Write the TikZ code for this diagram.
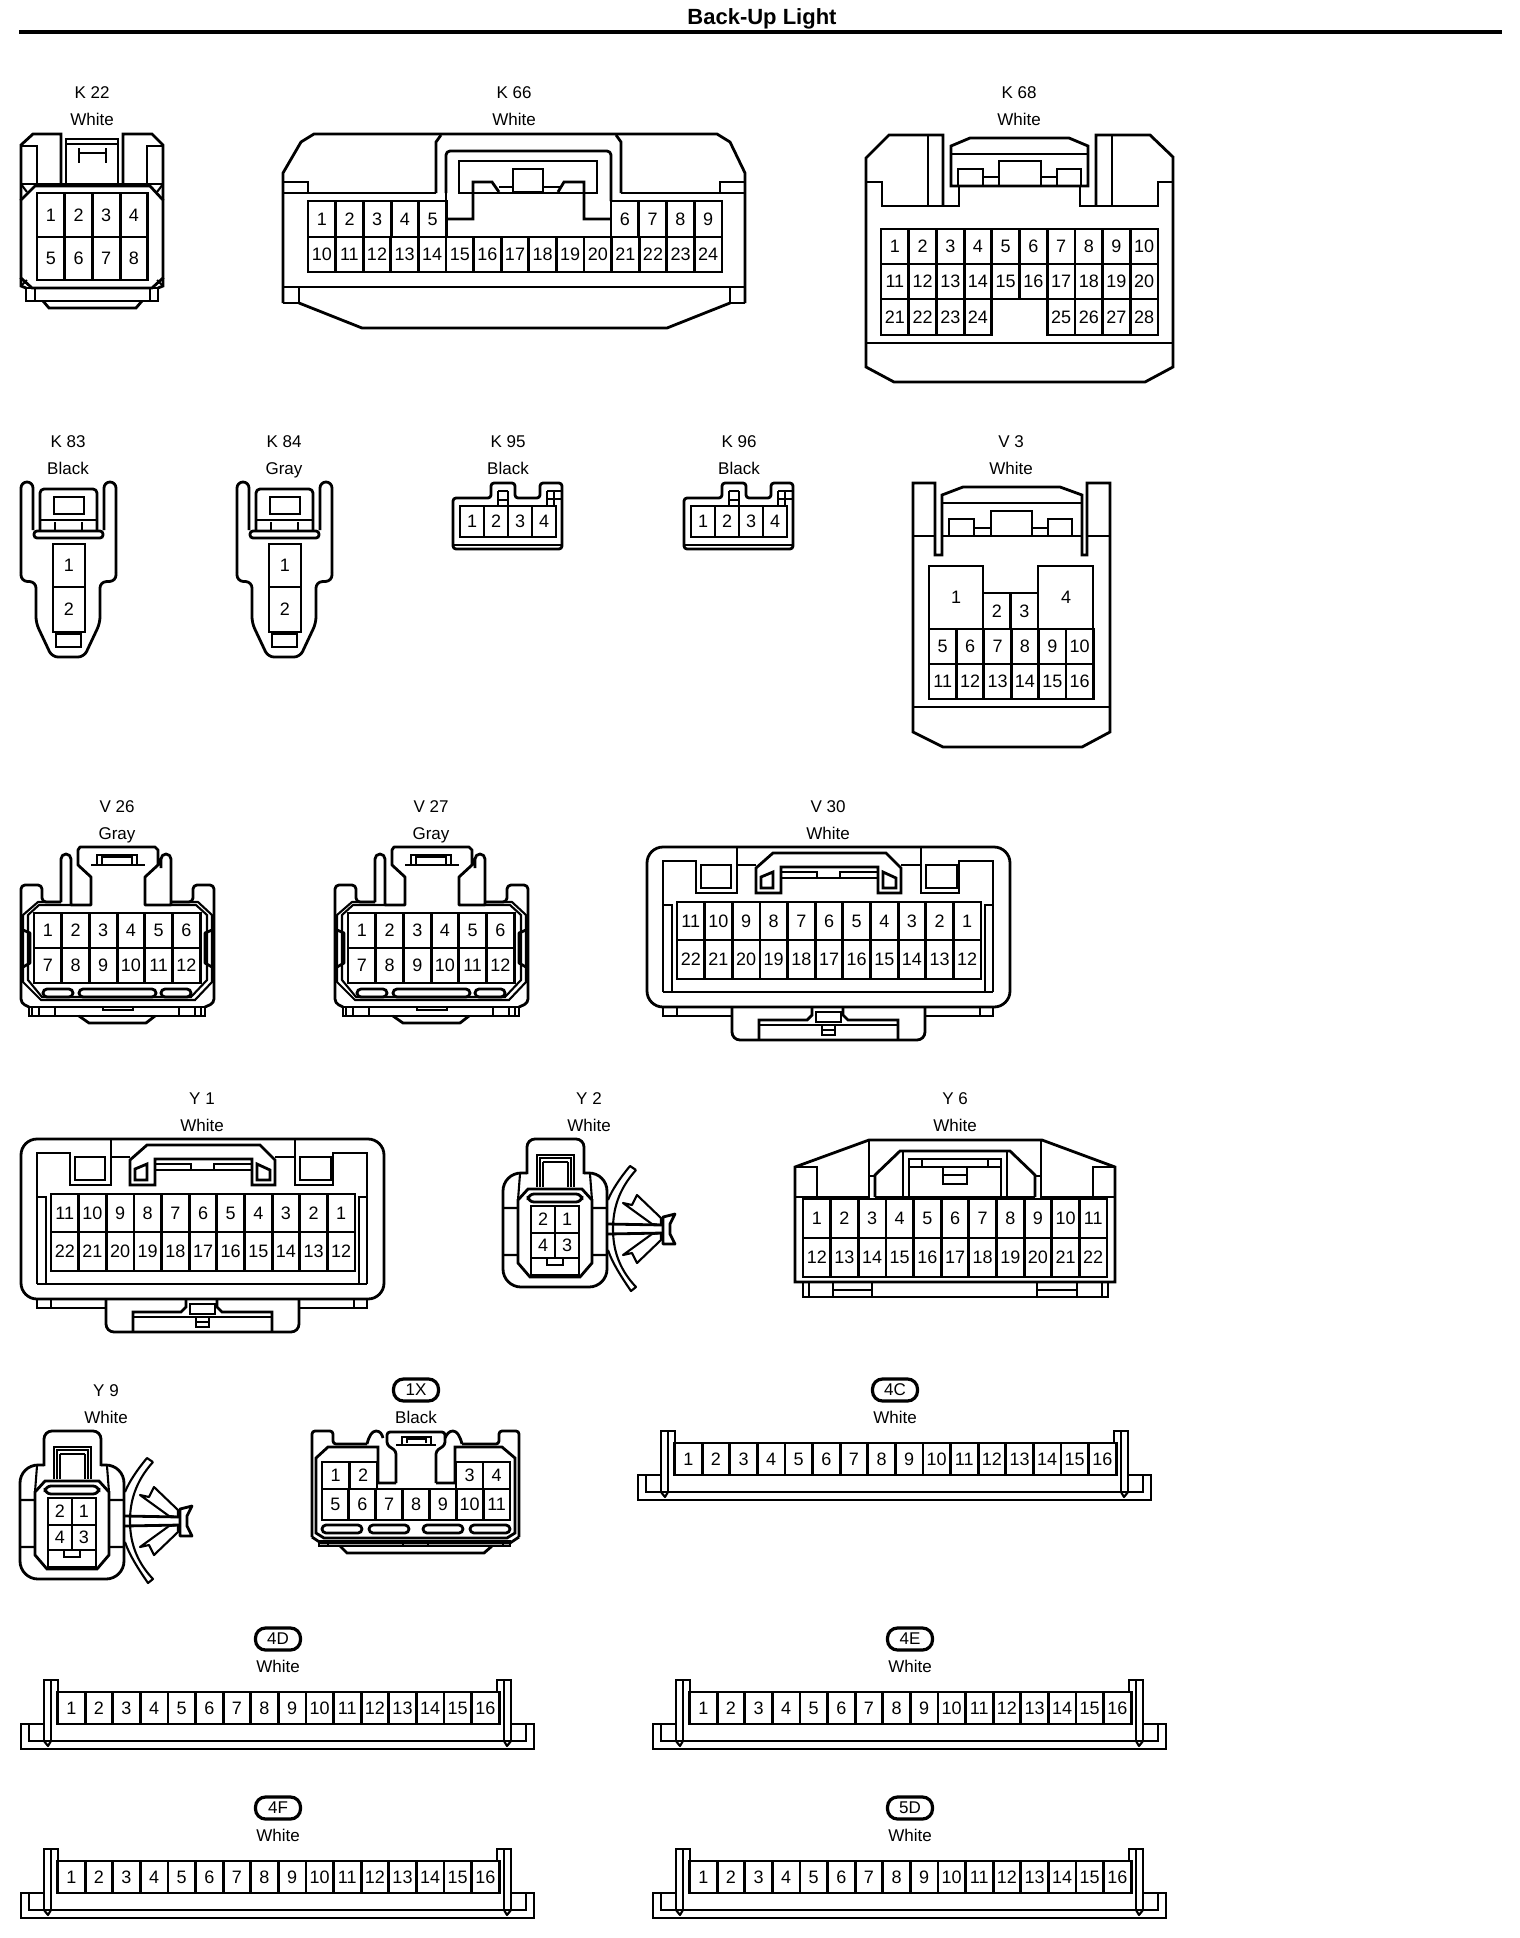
\documentclass[tikz,border=0pt]{standalone}
\usepackage{fontspec}
\setmainfont{Liberation Sans}
\tikzset{
  ln/.style={line width=1.4pt,line join=miter,line cap=butt},
  tn/.style={line width=1.05pt,line join=miter},
  num/.style={inner sep=0pt,font=\fontsize{9}{9}\selectfont},
  lbl/.style={inner sep=0pt,text height=6.1pt,text depth=0pt,font=\fontsize{8.5}{9}\selectfont},
  pill/.style={draw,line width=1.6pt,rounded corners=5pt,minimum width=22.5pt,minimum height=11pt,inner sep=0pt,font=\fontsize{8.5}{9}\selectfont},
  rnd/.style={rounded corners=2pt,line join=round}
}
\newcommand\pinrow[5]{\foreach \pinlab [count=\pidx] in {#5}{%
  \draw[ln] ({#1+(\pidx-1)*#2},#3) rectangle ({#1+\pidx*#2},#4);
  \node[num] at ({#1+(\pidx-.5)*#2},{(#3+#4)/2}) {\pinlab};}}
\newcommand\lab[4]{\node[lbl] (lab-#3) at (#1,#2) {#3};\node[lbl] (col-#3) at (#1,#2+27.5) {#4};}
\newcommand\badge[4]{\node[pill] (lab-#3) at (#1,#2) {#3};\node[lbl] (col-#3) at (#1,#2+27.5) {#4};}
% ---- repeated connector bodies
\newcommand\ktwo{%
  \draw[ln,line join=round] (21,572)--(21,488) arc[start angle=180,end angle=360,radius=6]--(33,530);
  \draw[ln,line join=round] (104,530)--(104,488) arc[start angle=180,end angle=360,radius=6]--(116,572);
  \draw[ln,rounded corners=3pt,line join=round] (21,572)--(21,581)--(36,582)--(36,623)--(52,657)--(84,657)--(100,623)--(100,582)--(116,581)--(116,572);
  \draw[ln,rounded corners=1.5pt] (34,531) rectangle (103,538);
  \draw[ln,rnd] (40,531)--(40,489)--(97,489)--(97,531);
  \draw[ln] (54,497) rectangle (84,514);
  \draw[tn] (40,520)--(97,520) (55,522)--(55,531) (82,522)--(82,531);
  \pinrow{53}{32}{544}{587}{1}
  \pinrow{53}{32}{587}{632}{2}
  \draw[ln] (56,634) rectangle (81,647);}
\newcommand\kfour{%
  \draw[ln,rounded corners=1.5pt,line join=round] (453,498)--(453,549)--(562,549)--(562,483)--(540,483)--(540,498)--(515,498)--(515,483)--(491,483)--(491,498)--cycle;
  \draw[tn] (453,545)--(562,545);
  \draw[tn] (498,498)--(498,506) (508,491)--(508,506) (498,491)--(508,491) (498,491)--(498,498) (498,500)--(508,500);
  \draw[tn] (547,491)--(547,506) (547,491)--(561,491) (547,499)--(561,499) (554,491)--(554,506);
  \pinrow{460}{24}{506}{537}{1,2,3,4}}
\newcommand\vtwosix{%
  \draw[ln,line join=round] (61,902)--(61,859) arc[start angle=180,end angle=360,radius=5]--(71,905)--(91,905)--(91,877)--(78,865)--(78,850)--(80,847)--(155,847)--(158,850)--(158,865)--(145,877)--(145,905)--(171,905)--(171,859) arc[start angle=0,end angle=-180,radius=5]--(161,868);
  \draw[ln] (91,865)--(145,865);
  \draw[ln] (97,865)--(97,855)--(137,855)--(137,865);
  \draw[tn] (102,864)--(102,857)--(132,857)--(132,864);
  \draw[ln,rnd] (29,1007)--(21,1003)--(21,885)--(42,885)--(42,902)--(61,902);
  \draw[ln,rnd] (205,1007)--(214,1003)--(214,885)--(193,885)--(193,902)--(171,902);
  \draw[tn] (61,902)--(38,902)--(23,915)--(23,982)--(41,1000)--(195,1000)--(212,982)--(212,915)--(198,902)--(171,902);
  \draw[tn] (71,905)--(39,905)--(28,915)--(28,980)--(42,997)--(191,997)--(207,980)--(207,915)--(196,905)--(171,905);
  \draw[ln,line join=round] (23,930)--(30,933)--(30,963)--(23,967);
  \draw[ln,line join=round] (212,930)--(205,933)--(205,963)--(212,967);
  \draw[ln,rounded corners=2pt] (43,989) rectangle (73,997);
  \draw[ln,rounded corners=2pt] (79,989) rectangle (156,997);
  \draw[ln,rounded corners=2pt] (161,989) rectangle (191,997);
  \draw[ln] (29,1007) rectangle (205,1016);
  \draw[tn] (32,1007)--(32,1016) (39,1007)--(39,1016) (55,1007)--(55,1016) (179,1007)--(179,1016) (195,1007)--(195,1016) (201,1007)--(201,1016);
  \draw[ln] (103,1007) rectangle (133,1010);
  \draw[ln,line join=round] (79,1016)--(89,1023)--(146,1023)--(155,1016);
  \pinrow{34}{27.7}{913}{948}{1,2,3,4,5,6}
  \pinrow{34}{27.7}{948}{983}{7,8,9,10,11,12}}
\newcommand\vthirty{%
  \draw[ln,rounded corners=8pt] (647,847) rectangle (1010,1007);
  \draw[ln] (663,992)--(993,992);
  \draw[ln] (663,992)--(663,861)--(696,861)--(696,893)--(737,893)--(737,847);
  \draw[ln] (993,992)--(993,861)--(959,861)--(959,893)--(921,893)--(921,847);
  \draw[ln] (701,865) rectangle (731,888);
  \draw[ln] (926,865) rectangle (957,888);
  \draw[ln] (737,865)--(756,865) (901,865)--(921,865);
  \draw[ln] (756,893)--(756,868)--(773,853)--(886,853)--(901,868)--(901,893)--(878,893)--(878,867)--(781,867)--(781,893)--cycle;
  \draw[ln] (761,888)--(761,877)--(773,872)--(773,888)--cycle;
  \draw[ln] (883,888)--(883,872)--(896,878)--(896,888)--cycle;
  \draw[tn] (781,872)--(817,872)--(817,878)--(840,878)--(840,872)--(878,872) (781,878)--(817,878) (840,878)--(878,878);
  \pinrow{677}{27.64}{902}{940}{11,10,9,8,7,6,5,4,3,2,1}
  \pinrow{677}{27.64}{940}{979}{22,21,20,19,18,17,16,15,14,13,12}
  \draw[ln] (663,905)--(672,905)--(672,992) (993,905)--(985,905)--(985,992);
  \draw[ln] (663,1007)--(663,1016)--(732,1016) (677,1008)--(677,1016) (993,1007)--(993,1016)--(925,1016) (980,1008)--(980,1016);
  \draw[ln,rounded corners=4pt] (732,1007)--(732,1040)--(925,1040)--(925,1007);
  \draw[ln] (759,1040)--(759,1020)--(807,1020)--(812,1015)--(812,1008);
  \draw[ln] (898,1040)--(898,1020)--(848,1020)--(843,1015)--(843,1008);
  \draw[tn] (759,1025)--(898,1025);
  \draw[ln] (816,1012) rectangle (841,1022);
  \draw[ln] (822,1025) rectangle (835,1035);
  \draw[tn] (822,1030)--(835,1030);}
\newcommand\ytwo{%
  \draw[ln,rounded corners=4pt] (527,1174)--(527,1139)--(584,1139)--(584,1174);
  \draw[ln] (537,1187)--(537,1155)--(574,1155)--(574,1187);
  \draw[tn] (540,1187)--(540,1158)--(571,1158)--(571,1187) (543,1162)--(568,1162) (543,1162)--(543,1187) (568,1162)--(568,1187);
  \draw[ln,rounded corners=9pt] (527,1173)--(503,1173)--(503,1287)--(607,1287)--(607,1173)--(584,1173);
  \draw[tn] (503,1208)--(518,1208) (503,1255)--(518,1255) (593,1208)--(607,1208) (593,1255)--(607,1255) (520,1174)--(518,1200) (590,1174)--(592,1200);
  \draw[ln] (518,1200)--(528,1189)--(582,1189)--(592,1200)--(592,1263)--(580,1277)--(530,1277)--(518,1263)--cycle;
  \draw[ln,rounded corners=3pt] (528,1194) rectangle (582,1202);
  \pinrow{531}{24}{1206}{1233}{2,1}
  \pinrow{531}{24}{1233}{1258}{4,3}
  \draw[ln] (531,1258) rectangle (579,1275);
  \draw[ln] (547,1258) rectangle (563,1265);
  \draw[tn,line join=round] (636,1170) .. controls (618,1190) and (613,1210) .. (613,1229) .. controls (613,1248) and (618,1268) .. (636,1287)--(631,1291) .. controls (620,1275) and (612,1262) .. (608,1250);
  \draw[tn,line join=round] (636,1170)--(630,1166) .. controls (620,1178) and (612,1190) .. (608,1200);
  \draw[ln] (607,1224)--(663,1225) (607,1234)--(663,1233);
  \draw[tn,line join=round] (623,1203)--(632,1205)--(637,1195)--(661,1218)--(661,1225)--(652,1224)--cycle;
  \draw[tn,line join=round] (623,1255)--(632,1253)--(637,1263)--(661,1240)--(661,1233)--(652,1234)--cycle;
  \draw[ln,line join=round] (663,1217)--(675,1214)--(670,1224)--(670,1234)--(675,1244)--(663,1244)--cycle;}
\newcommand\wideconn{%
  \draw[ln] (661,1492)--(661,1431)--(675,1431)--(675,1443);
  \draw[tn] (668,1431)--(668,1492);
  \draw[ln] (1114,1443)--(1114,1431)--(1128,1431)--(1128,1492);
  \draw[tn] (1121,1431)--(1121,1492);
  \draw[ln] (661,1475)--(638,1475)--(638,1500)--(1151,1500)--(1151,1475)--(1128,1475);
  \draw[ln] (646,1476)--(646,1492)--(1143,1492)--(1143,1476);
  \draw[tn,line join=round] (661,1492)--(665,1497)--(668,1492) (1121,1492)--(1124,1497)--(1128,1492);
  \pinrow{674.5}{27.6}{1443}{1475}{1,2,3,4,5,6,7,8,9,10,11,12,13,14,15,16}}
\begin{document}
\begin{tikzpicture}[x=0.5pt,y=-0.5pt]
\fill[white] (0,0) rectangle (1520,1938);
\useasboundingbox (0,0) rectangle (1520,1938);
% title
\node[inner sep=0pt,font=\fontsize{11}{12}\selectfont\bfseries] (title) at (762,19) {Back-Up Light};
\draw[line width=2pt] (19,32)--(1502,32);

% K 22
\lab{92}{92}{K 22}{White}
\draw[ln] (21,200)--(21,145)--(33,134)--(61,134)--(61,184);
\draw[ln] (21,146)--(37,146)--(37,184);
\draw[ln] (66,184)--(66,139)--(118,139)--(118,184);
\draw[tn] (66,144)--(118,144);
\draw[ln] (79,148)--(79,163) (106,148)--(106,163) (79,153)--(106,153);
\draw[ln] (123,184)--(123,134)--(152,134)--(163,145)--(163,200);
\draw[ln] (147,184)--(147,146)--(163,146);
\draw[ln] (21,184)--(163,184);
\draw[ln] (21,200)--(35,186)--(150,186)--(163,200)--(163,278)--(152,288)--(32,288)--(21,278)--cycle;
\draw[tn] (21,184)--(27,192) (163,184)--(157,192) (21,286)--(27,280) (163,286)--(157,280);
\draw[ln] (21,278)--(21,286)--(26,288) (163,278)--(163,286)--(158,288);
\draw[ln] (26,288) rectangle (158,301);
\draw[tn] (35,288)--(35,301) (150,288)--(150,301);
\draw[ln] (43,301)--(49,308)--(136,308)--(142,301);
\pinrow{37}{27.7}{193}{237}{1,2,3,4}
\pinrow{37}{27.7}{237}{280}{5,6,7,8}

% K 66
\lab{514}{92}{K 66}{White}
\draw[ln] (283,303)--(283,173)--(301,142)--(314,134)--(717,134)--(730,142)--(745,173)--(745,303);
\draw[ln] (283,193)--(436,193) (621,193)--(745,193);
\draw[ln] (436,193)--(436,142)--(441,135) (621,193)--(621,142)--(616,135);
\draw[ln,rnd] (446,193)--(446,151)--(611,151)--(611,201);
\draw[ln] (446,193)--(446,201);
\draw[ln] (459,161) rectangle (597,193);
\draw[ln] (513,169) rectangle (543,192);
\draw[ln] (446,219)--(473,219)--(473,182)--(492,182)--(499,192);
\draw[ln] (611,219)--(584,219)--(584,182)--(564,182)--(558,192);
\draw[tn] (499,187)--(513,187) (543,187)--(561,187);
\draw[ln] (283,182)--(308,182)--(308,193) (745,182)--(720,182)--(720,193);
\pinrow{308}{27.7}{201}{237}{1,2,3,4,5}
\pinrow{611}{27.75}{201}{237}{6,7,8,9}
\pinrow{308}{27.6}{237}{272}{10,11,12,13,14,15,16,17,18,19,20,21,22,23,24}
\draw[ln] (283,287)--(745,287);
\draw[ln] (283,303)--(299,303)--(299,287) (745,303)--(730,303)--(730,287);
\draw[ln] (299,303)--(362,328)--(667,328)--(730,303);

% K 68
\lab{1019}{92}{K 68}{White}
\draw[ln] (943,206)--(943,135)--(889,135)--(866,158)--(866,367)--(894,382)--(1145,382)--(1173,367)--(1173,157)--(1150,135)--(1096,135)--(1096,206);
\draw[ln] (928,135)--(928,206) (1112,135)--(1112,206);
\draw[ln] (866,182)--(882,182)--(882,206)--(959,206)--(959,185);
\draw[ln] (1173,182)--(1158,182)--(1158,206)--(1080,206)--(1080,185);
\draw[ln] (951,186)--(951,146)--(970,138)--(1069,138)--(1088,146)--(1088,186)--cycle;
\draw[ln] (951,154)--(1088,154);
\draw[ln] (958,186)--(958,169)--(983,169)--(983,186);
\draw[ln] (1057,186)--(1057,169)--(1081,169)--(1081,186);
\draw[ln] (999,186)--(999,161)--(1041,161)--(1041,186);
\draw[ln] (983,177)--(999,177) (1041,177)--(1057,177);
\pinrow{881}{27.7}{229}{264}{1,2,3,4,5,6,7,8,9,10}
\pinrow{881}{27.7}{264}{299}{11,12,13,14,15,16,17,18,19,20}
\pinrow{881}{27.7}{299}{335}{21,22,23,24}
\pinrow{1047.2}{27.7}{299}{335}{25,26,27,28}
\draw[ln] (866,343)--(1173,343);

% K 83 K 84
\lab{68}{441}{K 83}{Black}
\lab{284}{441}{K 84}{Gray}
\ktwo
\begin{scope}[shift={(216,0)}]\ktwo\end{scope}

% K 95 K 96
\lab{508}{441}{K 95}{Black}
\lab{739}{441}{K 96}{Black}
\kfour
\begin{scope}[shift={(231,0)}]\kfour\end{scope}

% V 3
\lab{1011}{441}{V 3}{White}
\draw[ln] (935,536)--(935,483)--(913,483)--(913,732)--(943,747)--(1082,747)--(1110,732)--(1110,483)--(1087,483)--(1087,555)--(1082,555)--(1082,495)--(1060,487)--(963,487)--(942,495)--(942,555)--(935,555)--(935,536);
\draw[ln] (913,536)--(935,536) (942,536)--(1082,536) (1087,536)--(1110,536) (942,503)--(1082,503);
\draw[ln] (949,536)--(949,519)--(974,519)--(974,536);
\draw[ln] (1048,536)--(1048,519)--(1072,519)--(1072,536);
\draw[ln] (991,536)--(991,511)--(1032,511)--(1032,536);
\draw[ln] (974,528)--(991,528) (1032,528)--(1048,528);
\draw[ln] (929,566) rectangle (983,629);
\draw[ln] (1038,566) rectangle (1093,629);
\node[num] at (956,597) {1};
\node[num] at (1066,597) {4};
\pinrow{983}{27.5}{593}{629}{2,3}
\pinrow{929}{27.4}{629}{664}{5,6,7,8,9,10}
\pinrow{929}{27.4}{664}{699}{11,12,13,14,15,16}
\draw[ln] (913,707)--(1110,707);

% V 26 V 27
\lab{117}{806}{V 26}{Gray}
\lab{431}{806}{V 27}{Gray}
\vtwosix
\begin{scope}[shift={(314,0)}]\vtwosix\end{scope}

% V 30 Y 1
\lab{828}{806}{V 30}{White}
\lab{202}{1098}{Y 1}{White}
\vthirty
\begin{scope}[shift={(-626,292)}]\vthirty\end{scope}

% Y 2 Y 9
\lab{589}{1098}{Y 2}{White}
\lab{106}{1390}{Y 9}{White}
\ytwo
\begin{scope}[shift={(-483,292)}]\ytwo\end{scope}

% Y 6
\lab{955}{1098}{Y 6}{White}
\draw[ln] (869,1140)--(795,1167)--(795,1282)--(1115,1282)--(1115,1167)--(1042,1140)--cycle;
\draw[ln] (795,1197)--(869,1197)--(869,1140) (1115,1197)--(1041,1197)--(1041,1140);
\draw[ln] (875,1197)--(1035,1197);
\draw[ln] (795,1167)--(817,1167)--(817,1197) (1115,1167)--(1093,1167)--(1093,1197);
\draw[ln] (875,1197)--(875,1175)--(900,1151)--(1010,1151)--(1035,1175)--(1035,1197);
\draw[ln] (869,1176)--(875,1176) (1035,1176)--(1041,1176);
\draw[ln] (903,1151)--(903,1197) (1007,1151)--(1007,1197);
\draw[ln] (909,1197)--(909,1159)--(1001,1159)--(1001,1197);
\draw[ln] (909,1167)--(1001,1167) (922,1159)--(922,1167) (988,1159)--(988,1167);
\draw[ln] (943,1167) rectangle (967,1184);
\draw[tn] (943,1175)--(967,1175);
\pinrow{803}{27.64}{1199}{1238}{1,2,3,4,5,6,7,8,9,10,11}
\pinrow{803}{27.64}{1238}{1277}{12,13,14,15,16,17,18,19,20,21,22}
\draw[ln] (803,1282) rectangle (1108,1297);
\draw[tn] (809,1282)--(809,1297) (1102,1282)--(1102,1297);
\draw[ln] (833,1282)--(833,1297) (872,1282)--(872,1297) (1037,1282)--(1037,1297) (1077,1282)--(1077,1297);
\draw[ln] (833,1290)--(872,1290) (1037,1290)--(1077,1290);

% 1X
\badge{416}{1390}{1X}{Black}
\draw[ln,rounded corners=1.5pt,line join=round] (312,1537)--(312,1431)--(333,1431)--(333,1444)--(367,1444);
\draw[ln,rounded corners=1.5pt,line join=round] (519,1537)--(519,1431)--(499,1431)--(499,1444)--(462,1444);
\draw[ln,line join=round] (367,1444) .. controls (369,1436) and (372,1431) .. (376,1431) .. controls (380,1431) and (382,1434) .. (383,1438);
\draw[ln,line join=round] (462,1444) .. controls (460,1436) and (457,1431) .. (453,1431) .. controls (449,1431) and (447,1434) .. (445,1438);
\draw[ln,rounded corners=1.5pt,line join=round] (396,1483)--(396,1451)--(387,1445)--(387,1432)--(445,1432)--(445,1445)--(436,1451)--(436,1483);
\draw[ln] (396,1483)--(378,1483)--(378,1447)--(328,1447)--(316,1458)--(316,1533)--(324,1538)--(507,1538)--(515,1533)--(515,1458)--(502,1447)--(455,1447)--(455,1483)--(436,1483);
\draw[ln] (396,1445)--(436,1445);
\draw[ln] (402,1445)--(402,1437)--(431,1437)--(431,1445);
\draw[tn] (407,1443)--(407,1439)--(426,1439)--(426,1443);
\draw[ln,line join=round] (312,1537)--(321,1543)--(510,1543)--(519,1537);
\pinrow{322}{27.5}{1462}{1489}{1,2}
\pinrow{456}{27}{1462}{1489}{3,4}
\pinrow{322}{26.86}{1489}{1520}{5,6,7,8,9,10,11}
\draw[ln,rnd] (322,1525) rectangle (362,1533);
\draw[ln,rnd] (369,1525) rectangle (409,1533);
\draw[ln,rnd] (423,1525) rectangle (463,1533);
\draw[ln,rnd] (470,1525) rectangle (510,1533);
\draw[ln] (319,1541) rectangle (510,1546);
\draw[tn] (328,1541)--(328,1546) (403,1541)--(403,1546) (428,1541)--(428,1546) (503,1541)--(503,1546);
\draw[ln] (340,1546)--(347,1553)--(484,1553)--(492,1546);

% 16-way row connectors
\badge{895}{1390}{4C}{White}
\badge{278}{1639}{4D}{White}
\badge{910}{1639}{4E}{White}
\badge{278}{1808}{4F}{White}
\badge{910}{1808}{5D}{White}
\wideconn
\begin{scope}[shift={(-617,249)}]\wideconn\end{scope}
\begin{scope}[shift={(15,249)}]\wideconn\end{scope}
\begin{scope}[shift={(-617,418)}]\wideconn\end{scope}
\begin{scope}[shift={(15,418)}]\wideconn\end{scope}
\end{tikzpicture}
\end{document}
